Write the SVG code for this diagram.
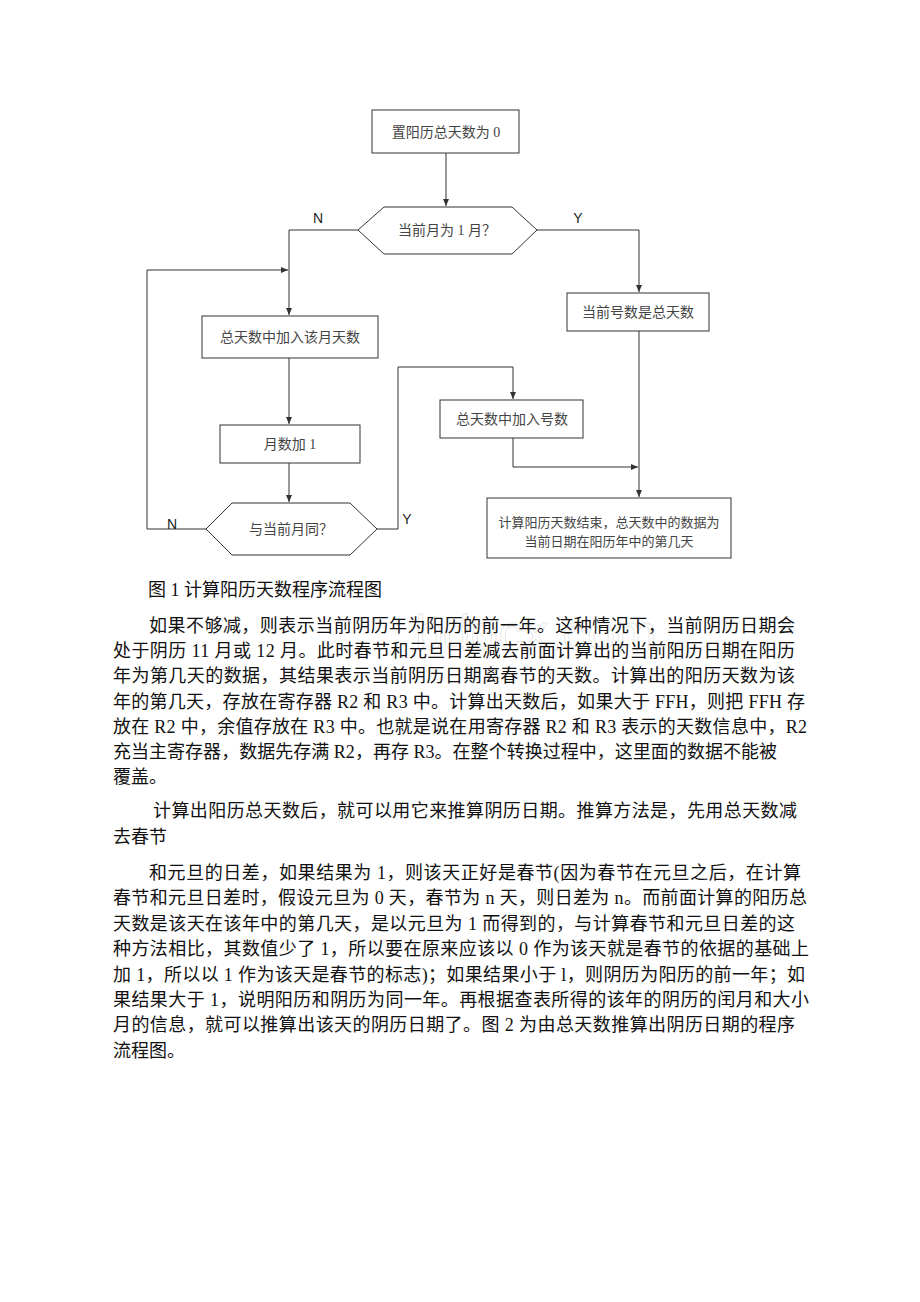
<svg xmlns="http://www.w3.org/2000/svg" width="920" height="1302" viewBox="0 0 920 1302">
<style>
.box{fill:#fff;stroke:#333;stroke-width:1}
.ln{fill:none;stroke:#333;stroke-width:1}
.ft{font-family:"Liberation Serif","Noto Sans CJK SC",serif;font-size:14px;fill:#444;text-anchor:middle}
.fs{font-family:"Liberation Serif","Noto Sans CJK SC",serif;font-size:13px;fill:#444;text-anchor:middle}
.yn{font-family:"Liberation Sans","Noto Sans CJK SC",sans-serif;font-size:14px;fill:#222;text-anchor:middle}
.body{font-family:"Liberation Serif","Noto Sans CJK SC",serif;font-size:18px;fill:#111}
.wm{font-family:"Liberation Sans",sans-serif;font-size:50px;fill:none;stroke:#e8e8e8;stroke-width:1}
</style>
<defs>
<marker id="ah" markerWidth="8" markerHeight="8" refX="7" refY="4" orient="auto" markerUnits="userSpaceOnUse">
<path d="M0,1 L7,4 L0,7 Z" fill="#333"/>
</marker>
</defs>
<rect width="920" height="1302" fill="#fff"/>
<text class="wm" x="415" y="650">bdocx.com</text>

<g id="connectors">
<path class="ln" d="M446,153 V206" marker-end="url(#ah)"/>
<path class="ln" d="M358,230 H289 V315" marker-end="url(#ah)"/>
<path class="ln" d="M537,230 H639 V292" marker-end="url(#ah)"/>
<path class="ln" d="M206,529 H147 V270 H288" marker-end="url(#ah)"/>
<path class="ln" d="M289,358 V424" marker-end="url(#ah)"/>
<path class="ln" d="M289,463 V502" marker-end="url(#ah)"/>
<path class="ln" d="M377,529 H398 V367 H513 V399" marker-end="url(#ah)"/>
<path class="ln" d="M513,438 V467 H638" marker-end="url(#ah)"/>
<path class="ln" d="M639,331 V497" marker-end="url(#ah)"/>
<text class="yn" x="318" y="223">N</text>
<text class="yn" x="578" y="223">Y</text>
<text class="yn" x="172" y="529">N</text>
<text class="yn" x="407" y="524">Y</text>
</g>

<g id="n-init">
<rect class="box" x="372" y="110" width="147" height="43"/>
<text class="ft" x="446" y="137">置阳历总天数为 0</text>
</g>
<g id="n-dec1">
<polygon class="box" points="358,230 384,207 512,207 537,230 512,254 384,254"/>
<text class="ft" x="447" y="235">当前月为 1 月？</text>
</g>
<g id="n-addmonth">
<rect class="box" x="202" y="316" width="176" height="42"/>
<text class="ft" x="290" y="342">总天数中加入该月天数</text>
</g>
<g id="n-curday">
<rect class="box" x="567" y="293" width="142" height="38"/>
<text class="ft" x="638" y="317">当前号数是总天数</text>
</g>
<g id="n-inc">
<rect class="box" x="220" y="425" width="140" height="38"/>
<text class="ft" x="290" y="449">月数加 1</text>
</g>
<g id="n-dec2">
<polygon class="box" points="206,529 232,503 350,503 377,529 350,555 232,555"/>
<text class="ft" x="291" y="534">与当前月同？</text>
</g>
<g id="n-addday">
<rect class="box" x="440" y="400" width="143" height="38"/>
<text class="ft" x="512" y="424">总天数中加入号数</text>
</g>
<g id="n-end">
<rect class="box" x="487" y="498" width="244" height="60"/>
<text class="fs" x="609" y="527">计算阳历天数结束，总天数中的数据为</text>
<text class="fs" x="609" y="546">当前日期在阳历年中的第几天</text>
</g>

<g id="caption">
<text class="body" x="148" y="596">图 1 计算阳历天数程序流程图</text>
</g>

<g id="paragraphs">
<text class="body" x="149" y="632" textLength="646" lengthAdjust="spacing">如果不够减，则表示当前阴历年为阳历的前一年。这种情况下，当前阴历日期会</text>
<text class="body" x="113" y="657" textLength="682" lengthAdjust="spacing">处于阴历 11 月或 12 月。此时春节和元旦日差减去前面计算出的当前阳历日期在阳历</text>
<text class="body" x="113" y="682" textLength="682" lengthAdjust="spacing">年为第几天的数据，其结果表示当前阴历日期离春节的天数。计算出的阳历天数为该</text>
<text class="body" x="113" y="708" textLength="692" lengthAdjust="spacing">年的第几天，存放在寄存器 R2 和 R3 中。计算出天数后，如果大于 FFH，则把 FFH 存</text>
<text class="body" x="113" y="733" textLength="694" lengthAdjust="spacing">放在 R2 中，余值存放在 R3 中。也就是说在用寄存器 R2 和 R3 表示的天数信息中，R2</text>
<text class="body" x="113" y="758" textLength="664" lengthAdjust="spacing">充当主寄存器，数据先存满 R2，再存 R3。在整个转换过程中，这里面的数据不能被</text>
<text class="body" x="113" y="783">覆盖。</text>

<text class="body" x="153" y="817" textLength="644" lengthAdjust="spacing">计算出阳历总天数后，就可以用它来推算阴历日期。推算方法是，先用总天数减</text>
<text class="body" x="113" y="843">去春节</text>

<text class="body" x="149" y="879" textLength="652" lengthAdjust="spacing">和元旦的日差，如果结果为 1，则该天正好是春节(因为春节在元旦之后，在计算</text>
<text class="body" x="113" y="904" textLength="694" lengthAdjust="spacing">春节和元旦日差时，假设元旦为 0 天，春节为 n 天，则日差为 n。而前面计算的阳历总</text>
<text class="body" x="113" y="930" textLength="682" lengthAdjust="spacing">天数是该天在该年中的第几天，是以元旦为 1 而得到的，与计算春节和元旦日差的这</text>
<text class="body" x="113" y="955" textLength="696" lengthAdjust="spacing">种方法相比，其数值少了 1，所以要在原来应该以 0 作为该天就是春节的依据的基础上</text>
<text class="body" x="113" y="981" textLength="692" lengthAdjust="spacing">加 1，所以以 1 作为该天是春节的标志)；如果结果小于 l，则阴历为阳历的前一年；如</text>
<text class="body" x="113" y="1006" textLength="696" lengthAdjust="spacing">果结果大于 1，说明阳历和阴历为同一年。再根据查表所得的该年的阴历的闰月和大小</text>
<text class="body" x="113" y="1031" textLength="682" lengthAdjust="spacing">月的信息，就可以推算出该天的阴历日期了。图 2 为由总天数推算出阴历日期的程序</text>
<text class="body" x="113" y="1057">流程图。</text>
</g>
</svg>
